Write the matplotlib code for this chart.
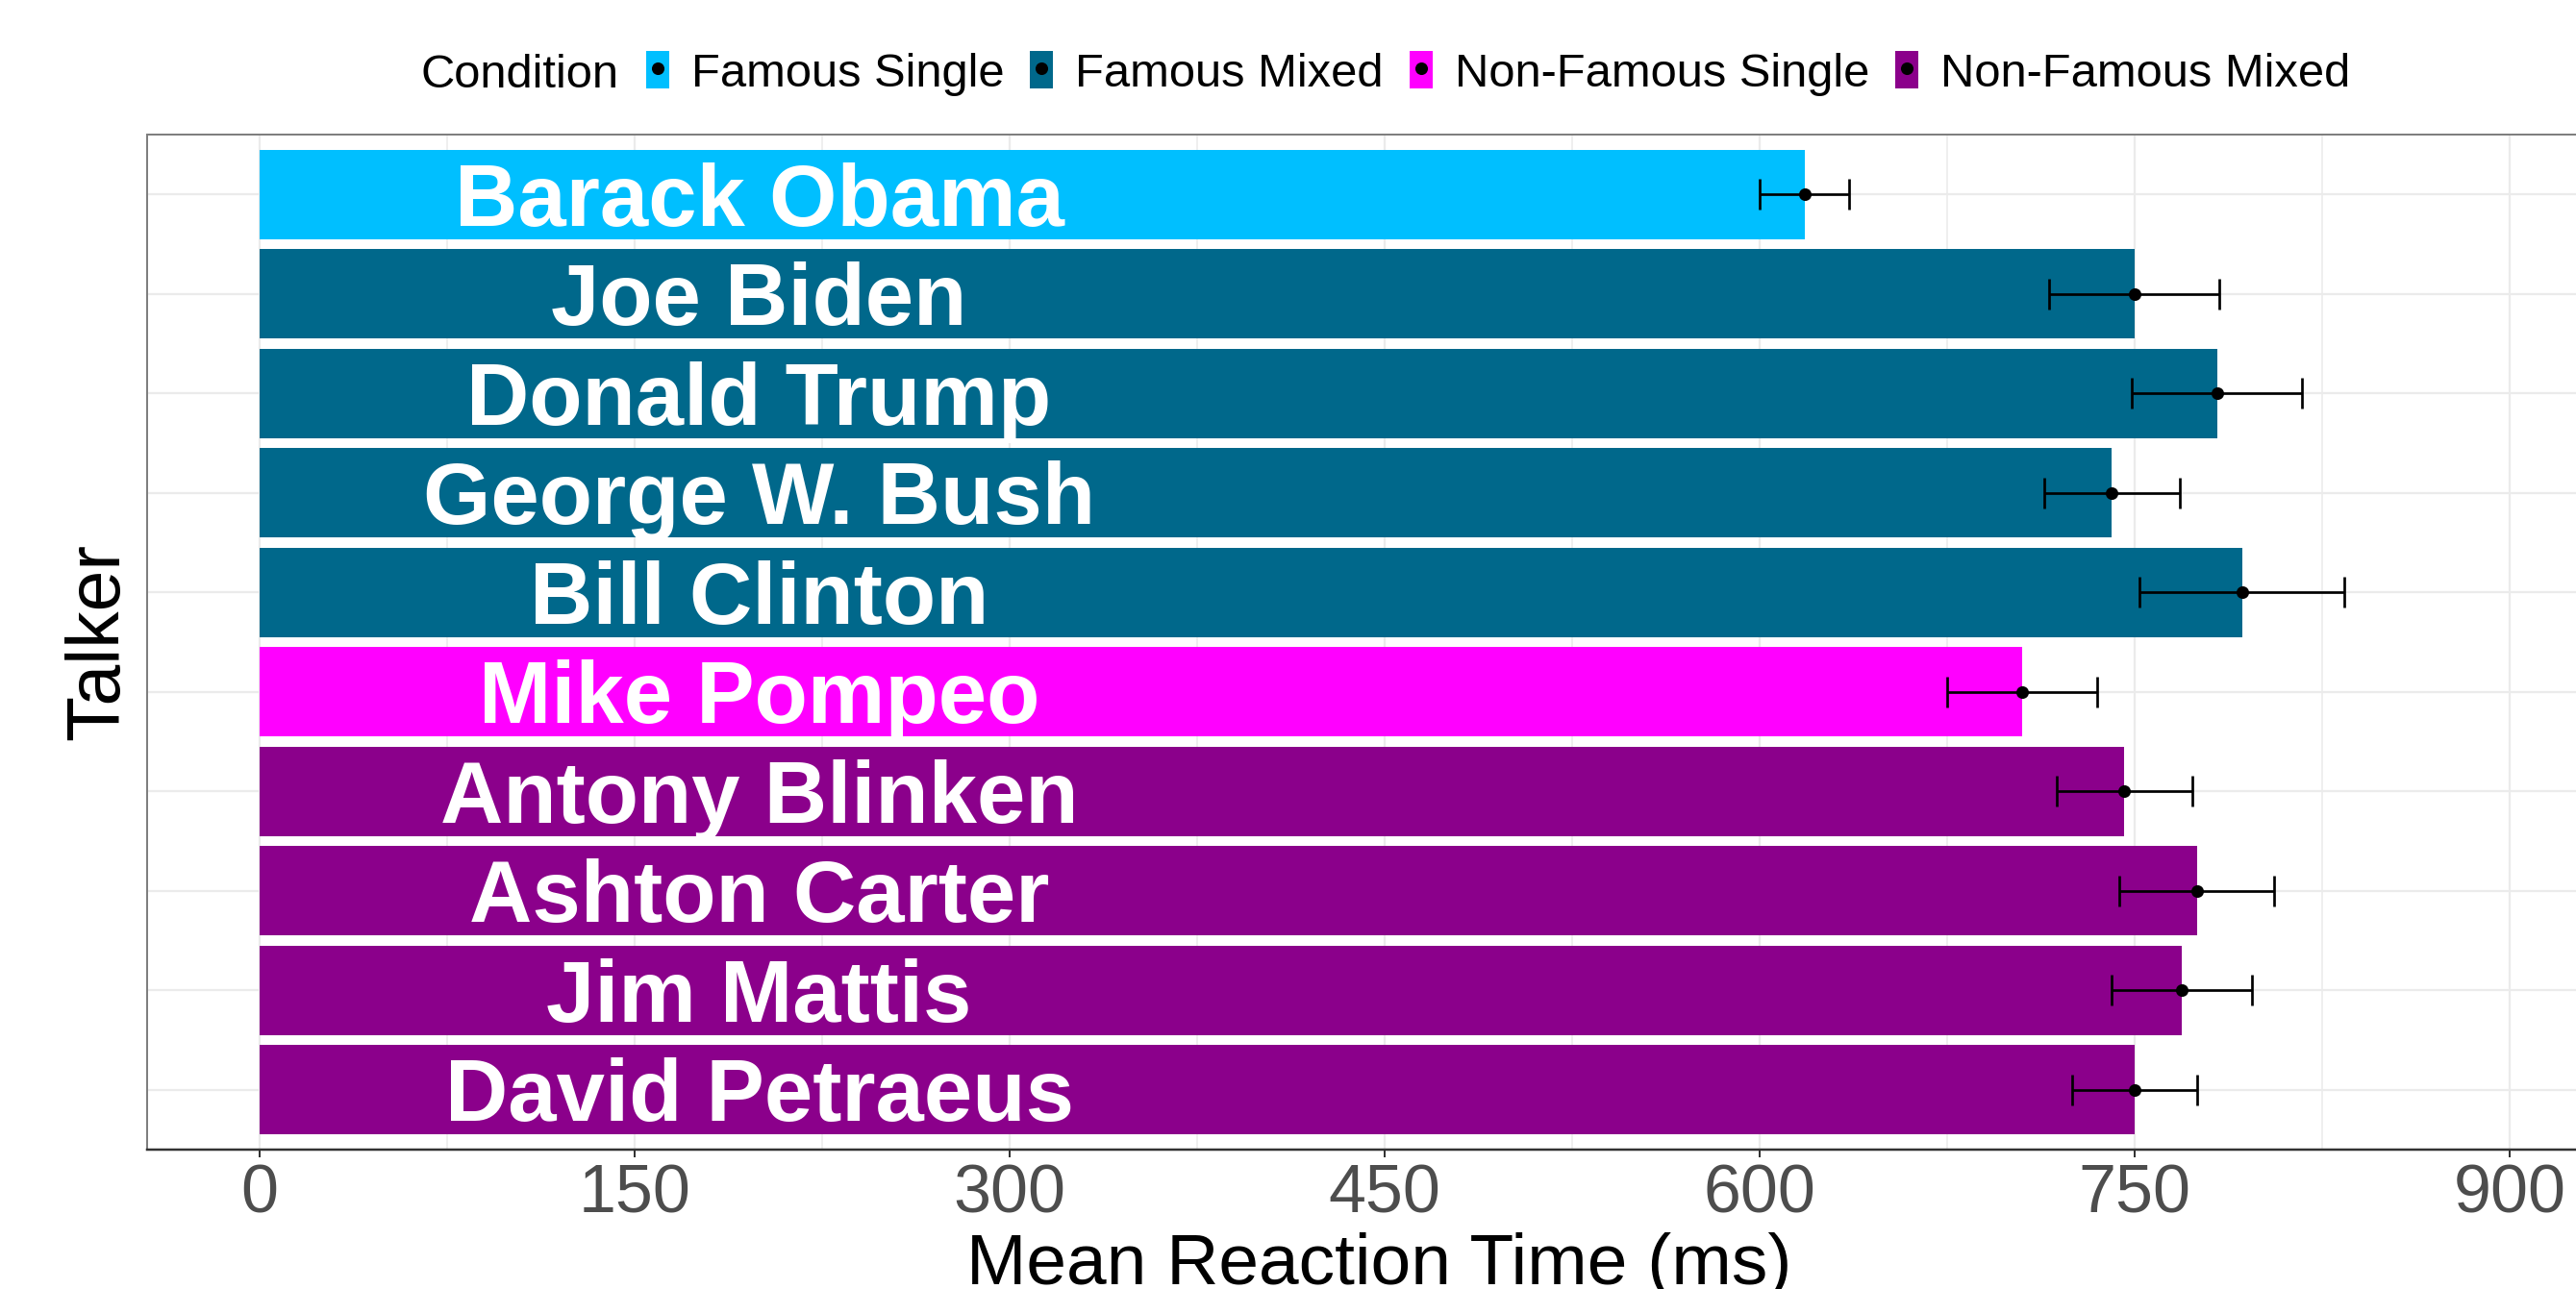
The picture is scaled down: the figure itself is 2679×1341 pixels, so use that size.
import matplotlib
matplotlib.use("Agg")
import matplotlib.pyplot as plt
import numpy as np
from matplotlib.patches import Patch
from matplotlib.lines import Line2D
from matplotlib.legend_handler import HandlerTuple
from matplotlib.transforms import ScaledTranslation

plt.rcParams["font.family"] = ["Liberation Sans", "DejaVu Sans"]

# Talkers, top to bottom
talkers = ["Barack Obama", "Joe Biden", "Donald Trump", "George W. Bush", "Bill Clinton",
           "Mike Pompeo", "Antony Blinken", "Ashton Carter", "Jim Mattis", "David Petraeus"]
conditions = ["Famous Single", "Famous Mixed", "Famous Mixed", "Famous Mixed", "Famous Mixed",
              "Non-Famous Single", "Non-Famous Mixed", "Non-Famous Mixed", "Non-Famous Mixed",
              "Non-Famous Mixed"]
mean_rt = [618, 750, 783, 741, 793, 705, 746, 775, 769, 750]
se_rt = [18, 34, 34, 27, 41, 30, 27, 31, 28, 25]

condition_order = ["Famous Single", "Famous Mixed", "Non-Famous Single", "Non-Famous Mixed"]
condition_colors = {"Famous Single": "#00BFFF", "Famous Mixed": "#00688B",
                    "Non-Famous Single": "#FF00FF", "Non-Famous Mixed": "#8B008B"}
x_ticks = [0, 150, 300, 450, 600, 750, 900]
label_x = 200

DPI = 200
W, H = 2679, 1341
fig = plt.figure(figsize=(W / DPI, H / DPI), dpi=DPI)
px = 72 / DPI  # one pixel in points

ax = fig.add_axes([153 / W, 1 - 1196 / H, (2716 - 153) / W, (1196 - 140) / H])

y = np.arange(len(talkers))
colors = [condition_colors[c] for c in conditions]
ax.barh(y, mean_rt, height=0.9, color=colors, edgecolor="none", zorder=2)
ax.errorbar(mean_rt, y, xerr=se_rt, fmt="o", color="black", ms=3.7,
            elinewidth=2.7 * px, capsize=5.6, capthick=2.7 * px, zorder=3)

# Talker names inside the bars
shift = ScaledTranslation(0, -32.5 / DPI, fig.dpi_scale_trans)
for yi, name in zip(y, talkers):
    ax.text(label_x, yi, name, ha="center", va="baseline", color="white",
            fontsize=32.6, fontweight="bold", transform=ax.transData + shift, zorder=4)

ax.set_xticks(x_ticks)
ax.set_xticks([t + 75 for t in x_ticks[:-1]], minor=True)
ax.set_yticks(y)
ax.set_xlim(-44.8, 940.8)
ax.set_ylim(len(talkers) - 1 + 0.6, -0.6)

ax.tick_params(axis="x", which="major", length=8 * px, width=2 * px, color="#333333",
               labelsize=25.2, labelcolor="#4D4D4D", pad=2.5)
ax.tick_params(axis="x", which="minor", length=0)
ax.tick_params(axis="y", length=0, labelleft=False)

ax.set_axisbelow(True)
ax.grid(which="major", color="#EBEBEB", lw=2.2 * px)
ax.grid(which="minor", axis="x", color="#EBEBEB", lw=1.5 * px)

for side in ["left", "top", "right"]:
    ax.spines[side].set_color("#7F7F7F")
    ax.spines[side].set_linewidth(2 * px)
ax.spines["bottom"].set_color("#333333")
ax.spines["bottom"].set_linewidth(2.5 * px)

ax.set_xlabel("Mean Reaction Time (ms)", fontsize=27, labelpad=1.8)
ax.set_ylabel("Talker", fontsize=27.7, labelpad=5)

# Legend across the top
fig.text(437.6 / W, 1 - 91 / H, "Condition", va="baseline", ha="left", fontsize=17.6)
handles = [(Patch(facecolor=condition_colors[c], edgecolor="none"),
            Line2D([], [], ls="none", marker="o", color="black", ms=3.7))
           for c in condition_order]
fig.legend(handles, condition_order, handler_map={tuple: HandlerTuple(ndivide=1)},
           loc="center left", bbox_to_anchor=(672 / W, 1 - 76.5 / H), ncol=4,
           frameon=False, fontsize=17.6, borderpad=0, borderaxespad=0,
           handlelength=0.49, handleheight=0.84, handletextpad=0.47,
           columnspacing=0.55, numpoints=1)

fig.savefig("out.png", dpi=DPI)
